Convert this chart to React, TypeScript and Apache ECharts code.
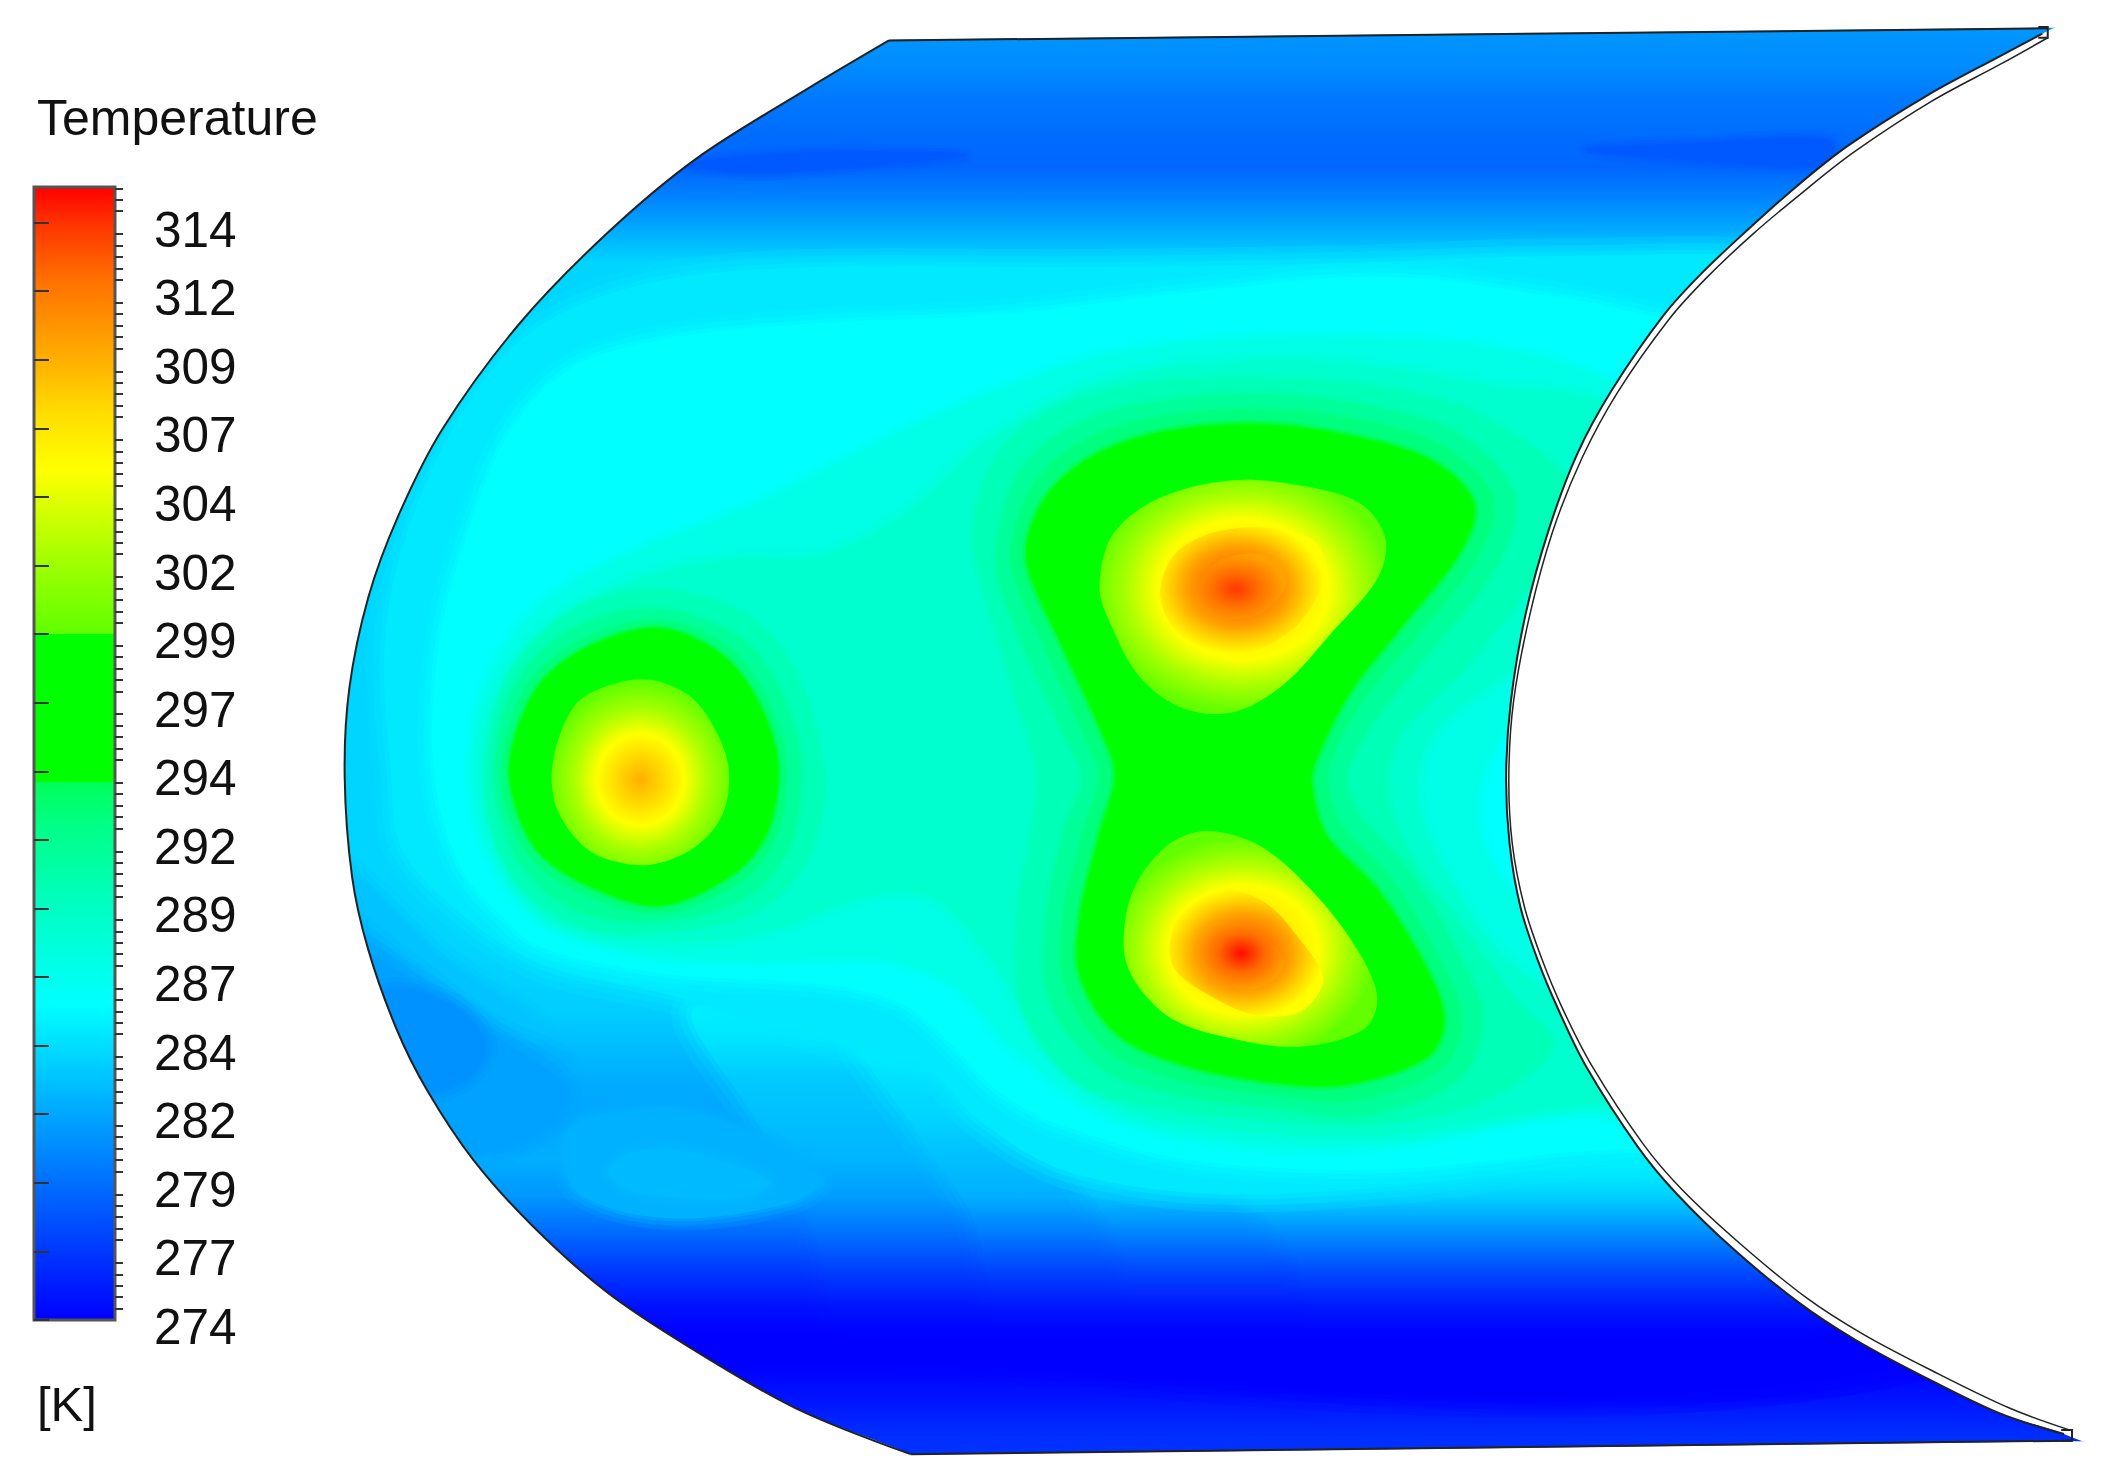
import React, { useEffect, useRef } from "react";
import * as echarts from "echarts";

const PAGE_W = 2104;
const PAGE_H = 1481;
const X_MAX = 1559.7;
const Y_MAX = 1097.9;
const FONT = '"Liberation Sans", Arial, sans-serif';
const SMOOTH = 0.33;

// ---------- colour scale ----------
const rampT = [274, 285.5, 287, 289, 292, 293.6, 293.6, 299, 299, 302, 305, 307, 309, 312, 314, 315.3];
const rampC = [
  [0, 0, 255], [0, 255, 255], [0, 255, 230], [0, 255, 195], [0, 255, 135], [0, 255, 90], [0, 255, 0], [0, 255, 0],
  [95, 255, 0], [170, 255, 0], [255, 255, 0], [255, 222, 0], [255, 175, 0], [255, 110, 0], [255, 50, 0], [255, 0, 0],
];
const tickValues = [274, 276.5, 279, 281.5, 284, 286.5, 289, 291.5, 294, 296.5, 299, 301.5, 304, 306.5, 309, 311.5, 314];
const tickLabels = ["274", "277", "279", "282", "284", "287", "289", "292", "294", "297", "299", "302", "304", "307", "309", "312", "314"];
const barMax = 315.3;

// ---------- temperature profile of the background, top to bottom ----------
const baseY = [0, 25, 49, 74, 99, 124, 148, 173, 195, 700, 750, 777, 804, 832, 859, 887, 914, 941, 969, 988, 1013, 1038, 1062, 1098];
const baseT = [280.9, 280.7, 280.3, 279.4, 278.9, 278.6, 280, 281.9, 283.6, 283.6, 283.3, 282.5, 281.7, 281.5, 281.9, 280.8, 278.8, 276.6, 274.7, 274, 274, 274.9, 276, 276.6];

// ---------- lower band: vertical profiles, warmer towards the right ----------
const bandY = [745, 770, 800, 830, 860, 887, 914, 941, 969, 990];
const bandT1 = [285, 284.3, 283.1, 282.6, 282.1, 281.1, 279.1, 276.9, 274.9, 274];
const bandT2 = [285.5, 285, 284.1, 283.5, 282.6, 281.9, 279.6, 277.1, 275, 274];
const bandT3 = [285.5, 285.5, 285, 284.5, 283.7, 282.6, 280, 277.3, 275, 274];
const bandT4 = [285.5, 285.5, 285.5, 285.5, 285.2, 283.4, 280.4, 277.5, 275.1, 274];
const band1 = [[520, 745], [560, 830], [600, 900], [640, 1000], [1450, 1000], [1450, 745]];
const band2 = [[640, 760], [680, 840], [720, 900], [760, 1000], [1450, 1000], [1450, 760]];
const band3 = [[750, 780], [790, 860], [830, 920], [860, 1000], [1450, 1000], [1450, 780]];
const band4 = [[880, 810], [920, 880], [960, 930], [990, 1000], [1450, 1000], [1450, 810]];

// ---------- lower-left cool patches ----------
const cool2828 = [[240, 640], [330, 712], [400, 768], [240, 800]];
const cool282 = [[240, 680], [300, 715], [360, 760], [420, 794], [240, 850]];
const cool2813 = [[250, 700], [310, 730], [370, 770], [420, 810], [380, 850], [300, 850], [250, 800]];
const cool2806 = [[285, 735], [335, 745], [360, 775], [345, 800], [310, 810], [280, 780]];
const patch282 = [[418, 846], [434, 829], [515, 824], [609, 873], [585, 892], [494, 903], [428, 884]];
const patch2824 = [[451, 867], [470, 854], [509, 854], [570, 875], [555, 887], [494, 887], [464, 881]];
const darkLeft = [[510, 122], [600, 113], [715, 115], [650, 122], [560, 128]];
const darkRight = [[1176, 111], [1261, 106], [1356, 104], [1356, 121], [1261, 119]];

// ---------- isotherms around all the hot spots ----------
const iso2845 = [[800, 198], [1000, 195], [1150, 190], [1350, 195], [1500, 250], [1400, 600], [1350, 855], [1180, 860], [1050, 878], [900, 885], [790, 868], [725, 830], [685, 790], [620, 772], [585, 762], [494, 737], [403, 716], [345, 680], [298, 630], [290, 575], [285, 480], [300, 400], [340, 310], [395, 245], [480, 210], [600, 198]];
const iso2855 = [[880, 217], [1025, 205], [1167, 222], [1240, 237], [1400, 260], [1400, 600], [1350, 870], [1214, 852], [1025, 867], [882, 860], [789, 835], [741, 810], [706, 775], [670, 745], [615, 730], [494, 722], [403, 703], [367, 675], [340, 640], [322, 575], [325, 480], [345, 400], [378, 320], [425, 272], [500, 250], [600, 240], [741, 233]];
const iso287 = [[940, 251], [1030, 252], [1100, 258], [1165, 272], [1222, 300], [1300, 360], [1200, 480], [1128, 525], [1098, 575], [1098, 625], [1130, 675], [1220, 760], [1300, 880], [1190, 826], [1030, 848], [920, 848], [820, 825], [750, 775], [708, 730], [650, 710], [560, 712], [470, 705], [400, 680], [362, 630], [350, 575], [360, 510], [400, 450], [470, 410], [560, 375], [640, 335], [715, 300], [820, 264]];
const iso2883 = [[940, 267], [1035, 274], [1110, 287], [1190, 300], [1260, 380], [1190, 450], [1120, 497], [1065, 540], [1050, 585], [1065, 635], [1110, 705], [1165, 750], [1230, 830], [1190, 818], [1120, 827], [1020, 842], [920, 838], [830, 820], [775, 775], [735, 710], [690, 665], [640, 665], [570, 690], [490, 698], [410, 682], [372, 635], [358, 575], [365, 525], [400, 470], [470, 430], [540, 415], [610, 412], [670, 382], [730, 328], [820, 282]];

// ---------- isotherms round the left hot spot ----------
const left2896 = [[487, 438], [550, 455], [585, 490], [605, 545], [610, 590], [597, 638], [560, 675], [489, 690], [430, 685], [385, 655], [365, 612], [362, 568], [372, 515], [393, 480], [432, 450]];
const left291 = [[487, 452], [540, 468], [570, 498], [590, 548], [593, 590], [582, 632], [552, 665], [489, 682], [430, 675], [392, 648], [374, 612], [367, 568], [376, 522], [395, 490], [432, 463]];
const left2923 = [[487, 460], [534, 476], [561, 505], [580, 550], [582, 587], [572, 626], [545, 656], [489, 676], [436, 664], [398, 640], [379, 608], [372, 568], [382, 526], [400, 497], [437, 472]];
const left2936 = [[487, 466], [530, 482], [556, 510], [574, 552], [576, 585], [566, 622], [540, 650], [489, 671], [440, 658], [403, 635], [385, 605], [378, 568], [388, 530], [405, 502], [440, 478]];
const left299 = [[482, 504], [510, 515], [527, 535], [540, 568], [536, 603], [515, 628], [482, 641], [450, 637], [430, 625], [413, 600], [409, 573], [416, 542], [430, 519], [455, 507]];

// ---------- isotherms round the two right hot spots ----------
const mid2896 = [[722, 395], [742, 335], [790, 300], [855, 284], [939, 281], [1030, 289], [1100, 310], [1165, 365], [1135, 430], [1085, 495], [1040, 540], [1028, 578], [1040, 625], [1085, 690], [1125, 745], [1150, 775], [1100, 815], [1010, 833], [940, 829], [860, 820], [800, 802], [760, 750], [755, 680], [765, 620], [770, 575], [755, 520], [735, 455]];
const mid291 = [[741, 396], [758, 347], [800, 314], [860, 298], [939, 293], [1022, 303], [1082, 323], [1122, 368], [1108, 420], [1060, 482], [1022, 528], [1000, 565], [998, 583], [1008, 606], [1043, 645], [1081, 708], [1098, 756], [1080, 800], [1008, 826], [951, 821], [870, 810], [815, 790], [778, 738], [777, 675], [790, 615], [803, 575], [790, 545], [762, 485], [740, 425]];
const mid2923 = [[752, 396], [770, 355], [808, 325], [865, 309], [939, 304], [1018, 314], [1072, 333], [1106, 370], [1093, 415], [1048, 473], [1010, 518], [987, 561], [984, 581], [994, 612], [1031, 652], [1068, 714], [1083, 756], [1068, 792], [1003, 815], [951, 812], [875, 800], [822, 778], [790, 730], [789, 678], [803, 618], [815, 574], [803, 542], [775, 480], [752, 425]];
const mid2936 = [[763, 396], [781, 362], [815, 336], [865, 320], [939, 315], [1013, 326], [1063, 343], [1092, 373], [1082, 409], [1038, 465], [1001, 512], [976, 561], [972, 581], [983, 620], [1021, 660], [1058, 720], [1070, 756], [1058, 783], [1001, 803], [951, 803], [877, 789], [828, 766], [801, 723], [801, 680], [815, 620], [827, 574], [815, 538], [786, 475], [763, 423]];
const upper299 = [[815, 435], [825, 396], [860, 369], [914, 356], [964, 360], [1008, 373], [1027, 399], [1021, 429], [988, 468], [951, 508], [914, 528], [877, 525], [845, 502], [823, 462]];
const upper305 = [[860, 442], [870, 412], [895, 396], [934, 391], [971, 399], [983, 419], [969, 455], [939, 479], [904, 487], [875, 472]];
const upper310 = [[887, 439], [899, 419], [919, 411], [940, 412], [950, 420], [953, 435], [934, 455], [909, 459], [892, 452]];
const lower299 = [[833, 703], [840, 660], [865, 627], [894, 616], [934, 627], [976, 664], [1008, 707], [1021, 740], [1011, 763], [964, 776], [914, 770], [870, 756], [843, 730]];
const lower305 = [[867, 703], [875, 677], [909, 660], [939, 670], [964, 697], [981, 726], [964, 750], [929, 752], [895, 737], [872, 720]];
const lower310 = [[890, 694], [904, 683], [929, 689], [951, 710], [948, 722], [936, 731], [919, 733], [899, 720], [890, 707]];

// ---------- outline of the plate ----------
const outerArc = [[659, 30], [600, 65], [517, 117], [451, 172], [385, 240], [328, 318], [295, 383], [273, 443], [259, 510], [255.5, 575], [261, 650], [273, 704], [294, 763], [316.5, 808], [351, 860], [395, 909], [450, 958], [511.5, 999], [590, 1044], [675, 1078]];
const innerArc = [[1514, 25], [1482, 42], [1430, 70], [1370, 108], [1332, 138], [1296, 170], [1261, 203], [1233, 234], [1195, 289], [1169, 337], [1148, 393], [1131, 455], [1120, 520], [1116.5, 575], [1119, 625], [1127, 672], [1140, 712], [1155, 748], [1176, 791], [1214, 850], [1242, 884], [1285, 926], [1334, 966], [1375, 993], [1427, 1021], [1483, 1048], [1530, 1063]];
const shellArc = [[1518, 28], [1484, 47], [1432, 75], [1374, 113], [1337, 142], [1300, 173], [1265, 206], [1237, 237], [1199, 291], [1173, 339], [1151, 394], [1134, 456], [1122, 520], [1118.5, 575], [1121, 625], [1130, 672], [1143, 711], [1158, 747], [1180, 790], [1218, 848], [1247, 882], [1290, 922], [1339, 962], [1381, 989], [1432, 1016], [1490, 1044], [1534, 1060]];
const topEdge = [[659, 30], [1518, 21]];
const bottomEdge = [[675, 1078], [1536, 1068]];
const topTip = [[1511, 20], [1518, 20], [1518, 28], [1511, 28]];
const bottomTip = [[1528, 1060], [1536, 1060], [1536, 1068], [1528, 1068]];

const leftMask = [[780, -40], [700, 6], ...outerArc, [730, 1103], [800, 1143], [200, 1400], [-400, 700], [200, -300]];
const rightMask = [[1600, -20], ...innerArc, [1620, 1105], [1800, 1300], [2100, 500], [1800, -300]];
const topMask = [[600, -100], [1700, -100], [1700, 20.5], [1518, 20.5], [659, 29.5]];
const bottomMask = [[600, 1250], [1700, 1250], [1700, 1068.5], [1536, 1068.5], [675, 1078.5]];

// ---------- colour helpers ----------
const colorAt = (t: number) => {
  let i = rampT.length - 2;
  for (let k = 0; k < rampT.length - 1; k++) {
    if (t < rampT[k + 1]) { i = k; break; }
  }
  const span = rampT[i + 1] - rampT[i] || 1;
  const f = Math.max(0, Math.min(1, (t - rampT[i]) / span));
  const c = rampC[i].map((v, j) => Math.round(v + (rampC[i + 1][j] - v) * f));
  return `rgb(${c[0]},${c[1]},${c[2]})`;
};
const radial = (x: number, y: number, r: number, stops: number[][]) => ({
  type: "radial", x, y, r, colorStops: stops.map(([offset, t]) => ({ offset, color: colorAt(t) })),
});

// ---------- what is drawn, in painting order ----------
type Layer = { level?: number; pts: number[][]; soft?: number; fill?: any; profile?: number[] };
const layers: Layer[] = [
  { level: 282.8, pts: cool2828, soft: 30 }, { level: 282, pts: cool282, soft: 30 }, { level: 281.3, pts: cool2813, soft: 30 }, { level: 280.6, pts: cool2806, soft: 24 },
  { level: 278, pts: darkLeft, soft: 16 }, { level: 278, pts: darkRight, soft: 16 },
  { profile: bandT1, pts: band1, soft: 40 }, { profile: bandT2, pts: band2, soft: 40 },
  { profile: bandT3, pts: band3, soft: 40 }, { profile: bandT4, pts: band4, soft: 40 },
  { level: 282, pts: patch282, soft: 24 }, { level: 282.4, pts: patch2824, soft: 20 },
  { level: 284.5, pts: iso2845, soft: 36 }, { level: 285.5, pts: iso2855, soft: 30 },
  { level: 287, pts: iso287, soft: 22 }, { level: 288.3, pts: iso2883, soft: 18 },
  { level: 289.6, pts: left2896, soft: 12 }, { level: 289.6, pts: mid2896, soft: 14 },
  { level: 291, pts: left291, soft: 10 }, { level: 291, pts: mid291, soft: 12 },
  { level: 292.3, pts: left2923, soft: 8 }, { level: 292.3, pts: mid2923, soft: 10 },
  { level: 294, pts: left2936, soft: 8 }, { level: 294, pts: mid2936, soft: 10 },
  { pts: left299, fill: radial(0.5, 0.54, 0.52, [[0, 309], [0.47, 305], [0.72, 302], [1, 299.1]]) },
  { pts: upper299, fill: radial(0.5, 0.47, 0.52, [[0, 308], [0.57, 305], [0.78, 302], [1, 299.1]]) },
  { pts: lower299, fill: radial(0.47, 0.55, 0.52, [[0, 308], [0.57, 305], [0.78, 302], [1, 299.1]]) },
  { pts: upper305, fill: radial(0.47, 0.46, 0.52, [[0, 313], [0.3, 312], [0.6, 309.6], [0.8, 307.5], [1, 305]]) },
  { pts: lower305, fill: radial(0.48, 0.5, 0.52, [[0, 313], [0.3, 312], [0.6, 309.6], [0.8, 307.5], [1, 305]]) },
  { pts: upper310, fill: radial(0.44, 0.54, 0.54, [[0, 313.8], [0.5, 311.8], [1, 309.6]]) },
  { pts: lower310, fill: radial(0.5, 0.47, 0.54, [[0, 315], [0.5, 312.2], [1, 309.6]]) },
];
const masks = [leftMask, rightMask];
const straightMasks = [topMask, bottomMask];
const smoothLines = [outerArc, innerArc, shellArc];
const straightLines = [topEdge, bottomEdge, topTip, bottomTip];

const App = () => {
  const ref = useRef<HTMLDivElement>(null);
  useEffect(() => {
    const chart = echarts.init(ref.current!, undefined, { renderer: "svg" });
    const toPx = (api: any, pts: number[][]) => pts.map((p) => api.coord(p));

    const bandFill = (api: any, profile: number[]) => {
      const y0 = api.coord([0, bandY[0]])[1];
      const y1 = api.coord([0, bandY[bandY.length - 1]])[1];
      return {
        type: "linear", global: true, x: 0, y: y0, x2: 0, y2: y1,
        colorStops: bandY.map((y, k) => ({
          offset: (y - bandY[0]) / (bandY[bandY.length - 1] - bandY[0]),
          color: colorAt(profile[k]),
        })),
      };
    };

    const fieldItem = (params: any, api: any) => {
      const i = api.value(0);
      if (i === 0) {
        const a = api.coord([240, 0]);
        const b = api.coord([X_MAX, Y_MAX]);
        return {
          type: "rect",
          silent: true,
          shape: { x: a[0], y: a[1], width: b[0] - a[0], height: b[1] - a[1] },
          style: {
            fill: {
              type: "linear", x: 0, y: 0, x2: 0, y2: 1,
              colorStops: baseY.map((y, k) => ({ offset: Math.min(1, y / Y_MAX), color: colorAt(baseT[k]) })),
            },
          },
        };
      }
      const layer = layers[i - 1];
      const points = toPx(api, layer.pts);
      const paint = () =>
        layer.profile ? bandFill(api, layer.profile) : layer.fill || colorAt(layer.level as number);
      const children: any[] = [];
      if (layer.soft) {
        [[1, 0.2], [0.6, 0.3], [0.25, 0.45]].forEach(([w, a]) => {
          children.push({
            type: "polygon",
            silent: true,
            shape: { points, smooth: SMOOTH },
            style: { fill: "none", stroke: paint(), lineWidth: (layer.soft as number) * w, opacity: a, lineJoin: "round" },
          });
        });
      }
      children.push({
        type: "polygon",
        silent: true,
        shape: { points, smooth: SMOOTH },
        style: { fill: paint() },
      });
      return { type: "group", children };
    };
    const maskItem = (params: any, api: any) => {
      const i = api.value(0);
      const smooth = i < masks.length;
      const pts = smooth ? masks[i] : straightMasks[i - masks.length];
      return {
        type: "polygon",
        silent: true,
        shape: { points: toPx(api, pts), smooth: smooth ? SMOOTH : 0 },
        style: { fill: "#ffffff" },
      };
    };
    const lineItem = (params: any, api: any) => {
      const i = api.value(0);
      const smooth = i < smoothLines.length;
      const pts = smooth ? smoothLines[i] : straightLines[i - smoothLines.length];
      return {
        type: "polyline",
        silent: true,
        shape: { points: toPx(api, pts), smooth: smooth ? SMOOTH : 0 },
        style: { fill: "none", stroke: "#222222", lineWidth: smooth && i === 2 ? 1.5 : 2 },
      };
    };
    const barItem = (params: any, api: any) => {
      const a = api.coord([0, barMax]);
      const b = api.coord([1, 274]);
      const stops: any[] = rampT.map((t, k) => ({
        offset: (barMax - t) / (barMax - 274),
        color: `rgb(${rampC[k].join(",")})`,
      }));
      stops.reverse();
      return {
        type: "rect",
        silent: true,
        shape: { x: a[0], y: a[1], width: b[0] - a[0], height: b[1] - a[1] },
        style: {
          fill: { type: "linear", x: 0, y: 0, x2: 0, y2: 1, colorStops: stops },
          stroke: "#555555",
          lineWidth: 3,
        },
      };
    };

    const idx = (n: number) => Array.from({ length: n }, (_, i) => [i]);
    const minorValues: number[] = [];
    for (let k = 0; k <= 100; k++) {
      const v = 274 + (k * 2.5) / 6;
      if (v <= barMax && k % 6 !== 0) minorValues.push(v);
    }

    chart.setOption({
      animation: false,
      backgroundColor: "#ffffff",
      grid: [
        { left: 0, top: 0, width: PAGE_W, height: PAGE_H },
        { left: 34, top: 187, width: 81, height: 1133 },
      ],
      xAxis: [
        { gridIndex: 0, type: "value", min: 0, max: X_MAX, show: false },
        { gridIndex: 1, type: "value", min: 0, max: 1, show: false },
      ],
      yAxis: [
        { gridIndex: 0, type: "value", min: 0, max: Y_MAX, inverse: true, show: false },
        {
          gridIndex: 1, type: "value", position: "right", min: 274, max: barMax, z: 20,
          axisLine: { show: false },
          splitLine: { show: false },
          axisTick: { show: true, length: 15, lineStyle: { color: "#333333", width: 2 }, customValues: tickValues },
          axisLabel: {
            show: true,
            customValues: tickValues,
            formatter: (v: number) => `{t|${tickLabels[tickValues.indexOf(v)] ?? ""}}`,
            margin: 39,
            rich: { t: { padding: [13, 0, 0, 0], fontSize: 49.5, fontFamily: FONT, color: "#111111" } },
          },
        },
        {
          gridIndex: 1, type: "value", position: "right", min: 274, max: barMax, z: 20,
          axisLine: { show: false },
          splitLine: { show: false },
          axisLabel: { show: false },
          axisTick: { show: true, length: 8, lineStyle: { color: "#333333", width: 2 }, customValues: minorValues },
        },
      ],
      series: [
        { type: "custom", xAxisIndex: 0, yAxisIndex: 0, z: 2, clip: false, renderItem: fieldItem, data: idx(layers.length + 1) },
        { type: "custom", xAxisIndex: 0, yAxisIndex: 0, z: 3, clip: false, renderItem: maskItem, data: idx(masks.length + straightMasks.length) },
        { type: "custom", xAxisIndex: 0, yAxisIndex: 0, z: 4, clip: false, renderItem: lineItem, data: idx(smoothLines.length + straightLines.length) },
        { type: "custom", xAxisIndex: 1, yAxisIndex: 1, z: 6, clip: false, renderItem: barItem, data: [[0]] },
      ],
      graphic: [
        { type: "text", z: 30, x: 37, y: 118, style: { text: "Temperature", font: `50px ${FONT}`, fill: "#111111", verticalAlign: "middle" } },
        { type: "text", z: 30, x: 37, y: 1404, style: { text: "[K]", font: `49px ${FONT}`, fill: "#111111", verticalAlign: "middle" } },
      ],
    });
    return () => chart.dispose();
  }, []);
  return <div ref={ref} style={{ position: "absolute", left: 0, top: 0, width: PAGE_W, height: PAGE_H }} />;
};

export default App;
